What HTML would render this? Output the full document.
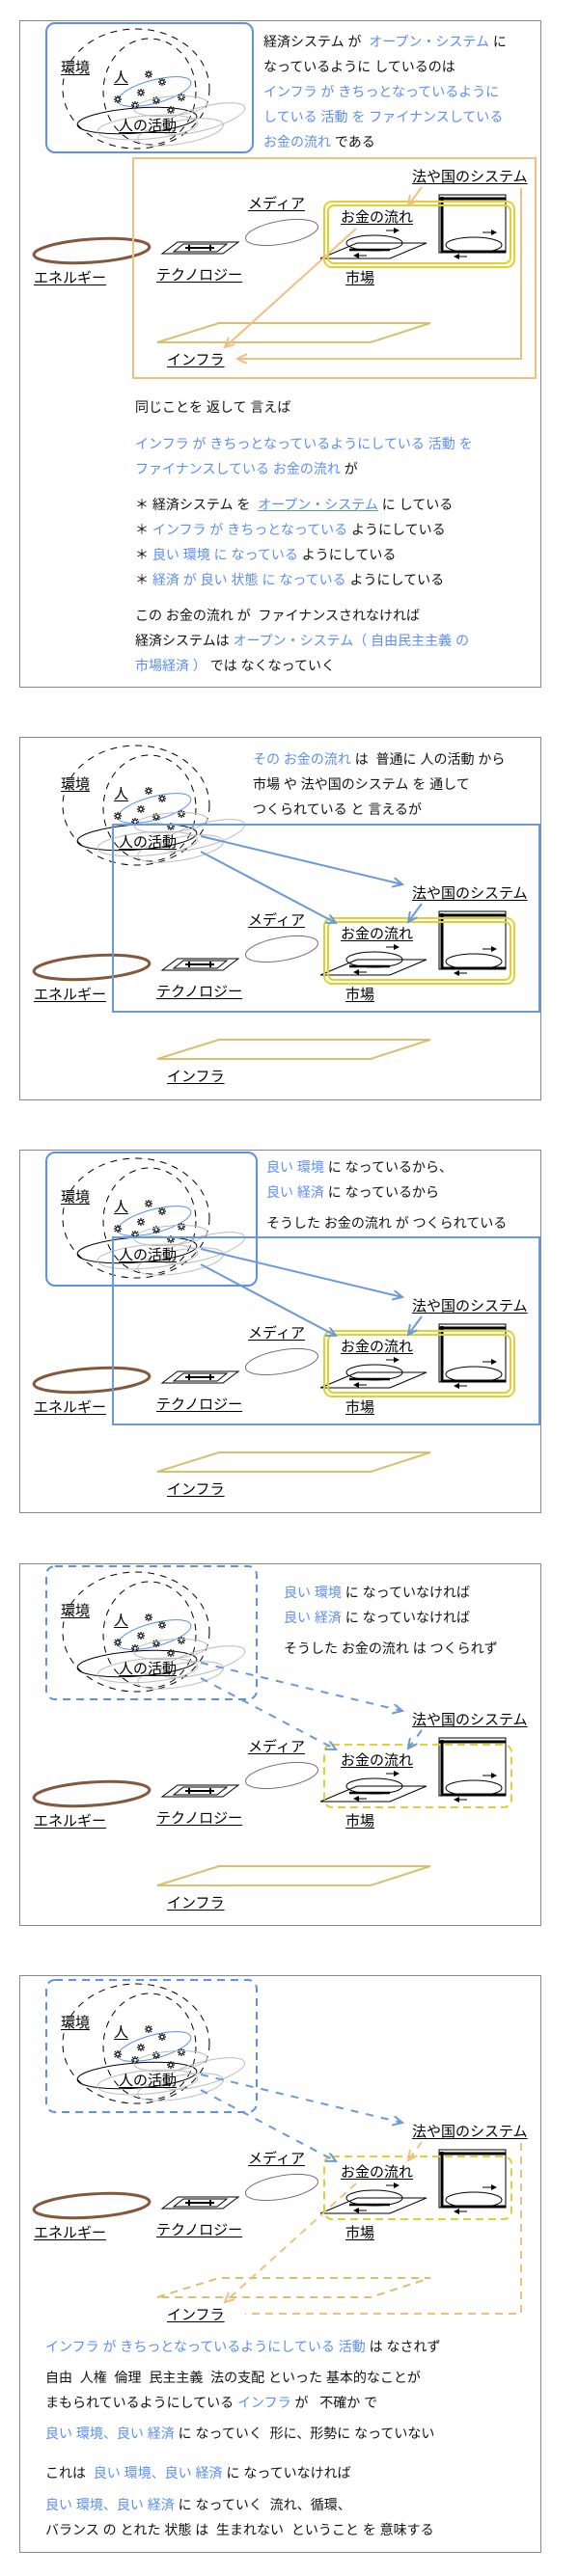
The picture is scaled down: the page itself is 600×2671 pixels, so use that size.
<!DOCTYPE html>
<html><head><meta charset="utf-8">
<style>
html,body{margin:0;padding:0;background:#fff;}
body{width:600px;height:2671px;position:relative;overflow:hidden;font-family:"Liberation Sans","Noto Sans CJK JP",sans-serif;}
.p{position:absolute;left:0;width:600px;}
.bd{position:absolute;left:20px;top:0;width:541px;border:1px solid #888;box-sizing:border-box;}
.p svg{position:absolute;left:0;top:0;}
.l{position:absolute;font-size:15px;line-height:17px;color:#000;text-decoration:underline;text-underline-offset:2px;white-space:nowrap;}
.t{position:absolute;font-size:14px;line-height:26px;color:#111;white-space:nowrap;}
.b{color:#5b8ef5;}
</style></head><body>

<svg width="0" height="0" style="position:absolute">
<defs>
<marker id="ao" markerWidth="12" markerHeight="12" refX="10" refY="5" orient="auto" markerUnits="userSpaceOnUse"><path d="M0,0 L10,5 L0,10" fill="none" stroke="#f0c080" stroke-width="2"/></marker>
<marker id="ab" markerWidth="12" markerHeight="12" refX="10" refY="5" orient="auto" markerUnits="userSpaceOnUse"><path d="M0,0 L10,5 L0,10" fill="none" stroke="#6a9ad8" stroke-width="2"/></marker>
<marker id="ak" markerWidth="6" markerHeight="6" refX="5" refY="3" orient="auto" markerUnits="userSpaceOnUse"><path d="M0,0 L6,3 L0,6z" fill="#000"/></marker>
<g id="st"><path d="M-4,0h8M0,-4v8M-3,-3l6,6M3,-3l-6,6" stroke="#000" stroke-width="1.2"/><circle r="1.8" fill="#fff" stroke="#000" stroke-width="0.8"/></g>
<g id="base" fill="none">
<ellipse cx="141" cy="71" rx="76" ry="62" stroke="#000" stroke-dasharray="7 6"/>
<ellipse cx="155" cy="74" rx="48" ry="55" stroke="#000" stroke-dasharray="7 6"/>
<ellipse cx="160" cy="74" rx="39" ry="12" stroke="#5b8ff0" transform="rotate(-15 160 74)"/>
<use href="#st" x="154" y="56"/><use href="#st" x="168" y="64"/><use href="#st" x="146" y="75"/><use href="#st" x="122" y="82"/><use href="#st" x="140" y="88"/><use href="#st" x="162" y="83"/><use href="#st" x="188" y="80"/><use href="#st" x="177" y="93"/>
<ellipse cx="142" cy="104" rx="62" ry="13" stroke="#000" transform="rotate(-4 142 104)"/>
<ellipse cx="177" cy="89" rx="38" ry="10" stroke="#bbb" transform="rotate(-5 177 89)"/>
<ellipse cx="210" cy="102" rx="45" ry="12" stroke="#bbb" transform="rotate(-15 210 102)"/>
<ellipse cx="153" cy="111" rx="52" ry="12" stroke="#bbb" transform="rotate(-5 153 111)"/>
<ellipse cx="187" cy="116" rx="45" ry="12" stroke="#bbb" transform="rotate(-10 187 116)"/>
<ellipse cx="95" cy="239" rx="60" ry="12" stroke="#84583c" stroke-width="3" transform="rotate(-4 95 239)"/>
<ellipse cx="292" cy="220" rx="38" ry="12" stroke="#806080" transform="rotate(-10 292 220)"/>
<polygon points="168,242 184,230 247,230 231,242" stroke="#000"/>
<polygon points="180,240 190,232 235,232 225,240" stroke="#000"/>
<path d="M192,236h30M196,233v6M218,233v6" stroke="#000" stroke-width="2"/>
<polygon points="332,247 370,231 442,231 404,247" stroke="#000"/>
<ellipse cx="388" cy="231" rx="29" ry="8" stroke="#000"/>
<path d="M362,238h42" stroke="#000" stroke-width="2.5"/>
<path d="M400,218h13" stroke="#000" marker-end="url(#ak)"/>
<path d="M380,244h-13" stroke="#000" marker-end="url(#ak)"/>
<rect x="455" y="181" width="69" height="60" stroke="#000"/>
<path d="M458,183v58M455,185h69M458,240h66" stroke="#000" stroke-width="3"/>
<ellipse cx="491" cy="233" rx="29" ry="8" stroke="#000"/>
<path d="M500,220h14" stroke="#000" marker-end="url(#ak)"/>
<path d="M484,245h-13" stroke="#000" marker-end="url(#ak)"/>
</g>
<g id="yel" fill="none" stroke="#e0d030" stroke-width="2"><rect x="336" y="188" width="197" height="68" rx="8"/><rect x="340" y="192" width="189" height="60" rx="6"/></g>
<g id="yeld" fill="none" stroke="#e0d030" stroke-width="2" stroke-dasharray="8 5"><rect x="336" y="188" width="194" height="65" rx="8"/></g>
<polygon id="inf" points="163,334 227,314 446,314 384,334" fill="none" stroke="#d8c070" stroke-width="2"/>
<g id="barr" fill="none" stroke="#6a9ad8" stroke-width="2"><path d="M208,103 L417,153" marker-end="url(#ab)"/><path d="M208,119 L348,193" marker-end="url(#ab)"/><path d="M437,173 L423,192" marker-end="url(#ab)"/></g>
<g id="barrd" fill="none" stroke="#6a9ad8" stroke-width="2" stroke-dasharray="8 8"><path d="M208,103 L417,153" marker-end="url(#ab)"/><path d="M208,119 L348,193" marker-end="url(#ab)"/><path d="M437,173 L423,192" marker-end="url(#ab)"/></g>
</defs></svg>

<!-- PANEL 1 -->
<div class="p" style="top:21px;height:692px;">
<div class="bd" style="height:692px"></div>
<svg width="600" height="692">
<use href="#base"/><use href="#yel"/><use href="#inf"/>
<rect x="48" y="3" width="214" height="134" rx="9" fill="none" stroke="#5b8ff0" stroke-width="2"/>
<rect x="138" y="143" width="417" height="228" fill="none" stroke="#f0c080" stroke-width="2"/>
<g fill="none" stroke="#f0c080" stroke-width="2">
<path d="M369,216 L233,339" marker-end="url(#ao)"/>
<path d="M540,174 V351 H246" marker-end="url(#ao)"/>
<path d="M437,173 L423,192" marker-end="url(#ao)"/>
</g>
</svg>
<div class="l" style="left:63px;top:41px">環境</div>
<div class="l" style="left:118px;top:51px">人</div>
<div class="l" style="left:123px;top:101px">人の活動</div>
<div class="l" style="left:427px;top:154px">法や国のシステム</div>
<div class="l" style="left:353px;top:196px">お金の流れ</div>
<div class="l" style="left:257px;top:182px">メディア</div>
<div class="l" style="left:35px;top:259px">エネルギー</div>
<div class="l" style="left:162px;top:256px">テクノロジー</div>
<div class="l" style="left:358px;top:259px">市場</div>
<div class="l" style="left:173px;top:344px">インフラ</div>
<div class="t" style="left:273px;top:9px">経済システム が&nbsp; <span class="b">オープン・システム</span> に<br>なっているように しているのは<br><span class="b">インフラ が きちっとなっているように<br>している 活動 を ファイナンスしている<br>お金の流れ</span> である</div>
<div class="t" style="left:140px;top:388px">同じことを 返して 言えば</div>
<div class="t" style="left:140px;top:426px"><span class="b">インフラ が きちっとなっているようにしている 活動 を<br>ファイナンスしている お金の流れ</span> が</div>
<div class="t" style="left:140px;top:489px">＊ 経済システム を&nbsp; <span class="b" style="text-decoration:underline">オープン・システム</span> に している<br>＊ <span class="b">インフラ が きちっとなっている</span> ようにしている<br>＊ <span class="b">良い 環境 に なっている</span> ようにしている<br>＊ <span class="b">経済 が 良い 状態 に なっている</span> ようにしている</div>
<div class="t" style="left:140px;top:604px">この お金の流れ が&nbsp; ファイナンスされなければ<br>経済システムは <span class="b">オープン・システム（ 自由民主主義 の<br>市場経済 ）</span> では なくなっていく</div>
</div>

<!-- PANEL 2 -->
<div class="p" style="top:764px;height:377px;">
<div class="bd" style="height:377px"></div>
<svg width="600" height="377">
<use href="#base"/><use href="#yel"/><use href="#inf"/>
<rect x="117" y="91" width="442" height="194" fill="none" stroke="#6a9ad8" stroke-width="2"/>
<use href="#barr"/>
</svg>
<div class="l" style="left:63px;top:41px">環境</div>
<div class="l" style="left:118px;top:51px">人</div>
<div class="l" style="left:123px;top:101px">人の活動</div>
<div class="l" style="left:427px;top:154px">法や国のシステム</div>
<div class="l" style="left:353px;top:196px">お金の流れ</div>
<div class="l" style="left:257px;top:182px">メディア</div>
<div class="l" style="left:35px;top:259px">エネルギー</div>
<div class="l" style="left:162px;top:256px">テクノロジー</div>
<div class="l" style="left:358px;top:259px">市場</div>
<div class="l" style="left:173px;top:344px">インフラ</div>
<div class="t" style="left:262px;top:10px"><span class="b">その お金の流れ</span> は&nbsp; 普通に 人の活動 から<br>市場 や 法や国のシステム を 通して<br>つくられている と 言えるが</div>
</div>

<!-- PANEL 3 -->
<div class="p" style="top:1192px;height:377px;">
<div class="bd" style="height:377px"></div>
<svg width="600" height="377">
<use href="#base"/><use href="#yel"/><use href="#inf"/>
<rect x="48" y="3" width="218" height="138" rx="9" fill="none" stroke="#5b8ff0" stroke-width="2"/>
<rect x="117" y="91" width="442" height="194" fill="none" stroke="#6a9ad8" stroke-width="2"/>
<use href="#barr"/>
</svg>
<div class="l" style="left:63px;top:41px">環境</div>
<div class="l" style="left:118px;top:51px">人</div>
<div class="l" style="left:123px;top:101px">人の活動</div>
<div class="l" style="left:427px;top:154px">法や国のシステム</div>
<div class="l" style="left:353px;top:196px">お金の流れ</div>
<div class="l" style="left:257px;top:182px">メディア</div>
<div class="l" style="left:35px;top:259px">エネルギー</div>
<div class="l" style="left:162px;top:256px">テクノロジー</div>
<div class="l" style="left:358px;top:259px">市場</div>
<div class="l" style="left:173px;top:344px">インフラ</div>
<div class="t" style="left:276px;top:5px"><span class="b">良い 環境</span> に なっているから、<br><span class="b">良い 経済</span> に なっているから</div>
<div class="t" style="left:276px;top:63px">そうした お金の流れ が つくられている</div>
</div>

<!-- PANEL 4 -->
<div class="p" style="top:1621px;height:376px;">
<div class="bd" style="height:376px"></div>
<svg width="600" height="376">
<use href="#base"/><use href="#yeld"/><use href="#inf"/>
<rect x="48" y="3" width="218" height="138" rx="9" fill="none" stroke="#5b8ff0" stroke-width="2" stroke-dasharray="8 6"/>
<use href="#barrd"/>
</svg>
<div class="l" style="left:63px;top:41px">環境</div>
<div class="l" style="left:118px;top:51px">人</div>
<div class="l" style="left:123px;top:101px">人の活動</div>
<div class="l" style="left:427px;top:154px">法や国のシステム</div>
<div class="l" style="left:353px;top:196px">お金の流れ</div>
<div class="l" style="left:257px;top:182px">メディア</div>
<div class="l" style="left:35px;top:259px">エネルギー</div>
<div class="l" style="left:162px;top:256px">テクノロジー</div>
<div class="l" style="left:358px;top:259px">市場</div>
<div class="l" style="left:173px;top:344px">インフラ</div>
<div class="t" style="left:294px;top:17px"><span class="b">良い 環境</span> に なっていなければ<br><span class="b">良い 経済</span> に なっていなければ</div>
<div class="t" style="left:294px;top:75px">そうした お金の流れ は つくられず</div>
</div>

<!-- PANEL 5 -->
<div class="p" style="top:2048px;height:599px;">
<div class="bd" style="height:599px"></div>
<svg width="600" height="599">
<use href="#base"/><use href="#yeld"/>
<polygon points="163,334 227,314 446,314 384,334" fill="none" stroke="#d8c070" stroke-width="2" stroke-dasharray="8 6"/>
<rect x="48" y="5" width="218" height="137" rx="9" fill="none" stroke="#5b8ff0" stroke-width="2" stroke-dasharray="8 6"/>
<g fill="none" stroke="#6a9ad8" stroke-width="2" stroke-dasharray="8 8"><path d="M208,103 L417,153" marker-end="url(#ab)"/><path d="M208,119 L348,193" marker-end="url(#ab)"/></g>
<g fill="none" stroke="#f0c080" stroke-width="2" stroke-dasharray="8 6">
<path d="M369,216 L233,339" marker-end="url(#ao)"/>
<path d="M540,174 V351 H254"/>
<path d="M437,173 L423,192" marker-end="url(#ao)"/>
</g>
</svg>
<div class="l" style="left:63px;top:41px">環境</div>
<div class="l" style="left:118px;top:51px">人</div>
<div class="l" style="left:123px;top:101px">人の活動</div>
<div class="l" style="left:427px;top:154px">法や国のシステム</div>
<div class="l" style="left:353px;top:196px">お金の流れ</div>
<div class="l" style="left:257px;top:182px">メディア</div>
<div class="l" style="left:35px;top:259px">エネルギー</div>
<div class="l" style="left:162px;top:256px">テクノロジー</div>
<div class="l" style="left:358px;top:259px">市場</div>
<div class="l" style="left:173px;top:344px">インフラ</div>
<div class="t" style="left:47px;top:372px"><span class="b">インフラ が きちっとなっているようにしている 活動</span> は なされず</div>
<div class="t" style="left:47px;top:404px">自由&nbsp; 人権&nbsp; 倫理&nbsp; 民主主義&nbsp; 法の支配 といった 基本的なことが<br>まもられているようにしている <span class="b">インフラ</span> が&nbsp;&nbsp; 不確か で</div>
<div class="t" style="left:47px;top:462px"><span class="b">良い 環境、良い 経済</span> に なっていく&nbsp; 形に、形勢に なっていない</div>
<div class="t" style="left:47px;top:503px">これは&nbsp; <span class="b">良い 環境、良い 経済</span> に なっていなければ</div>
<div class="t" style="left:47px;top:536px"><span class="b">良い 環境、良い 経済</span> に なっていく&nbsp; 流れ、循環、<br>バランス の とれた 状態 は&nbsp; 生まれない&nbsp; ということ を 意味する</div>
</div>

</body></html>
